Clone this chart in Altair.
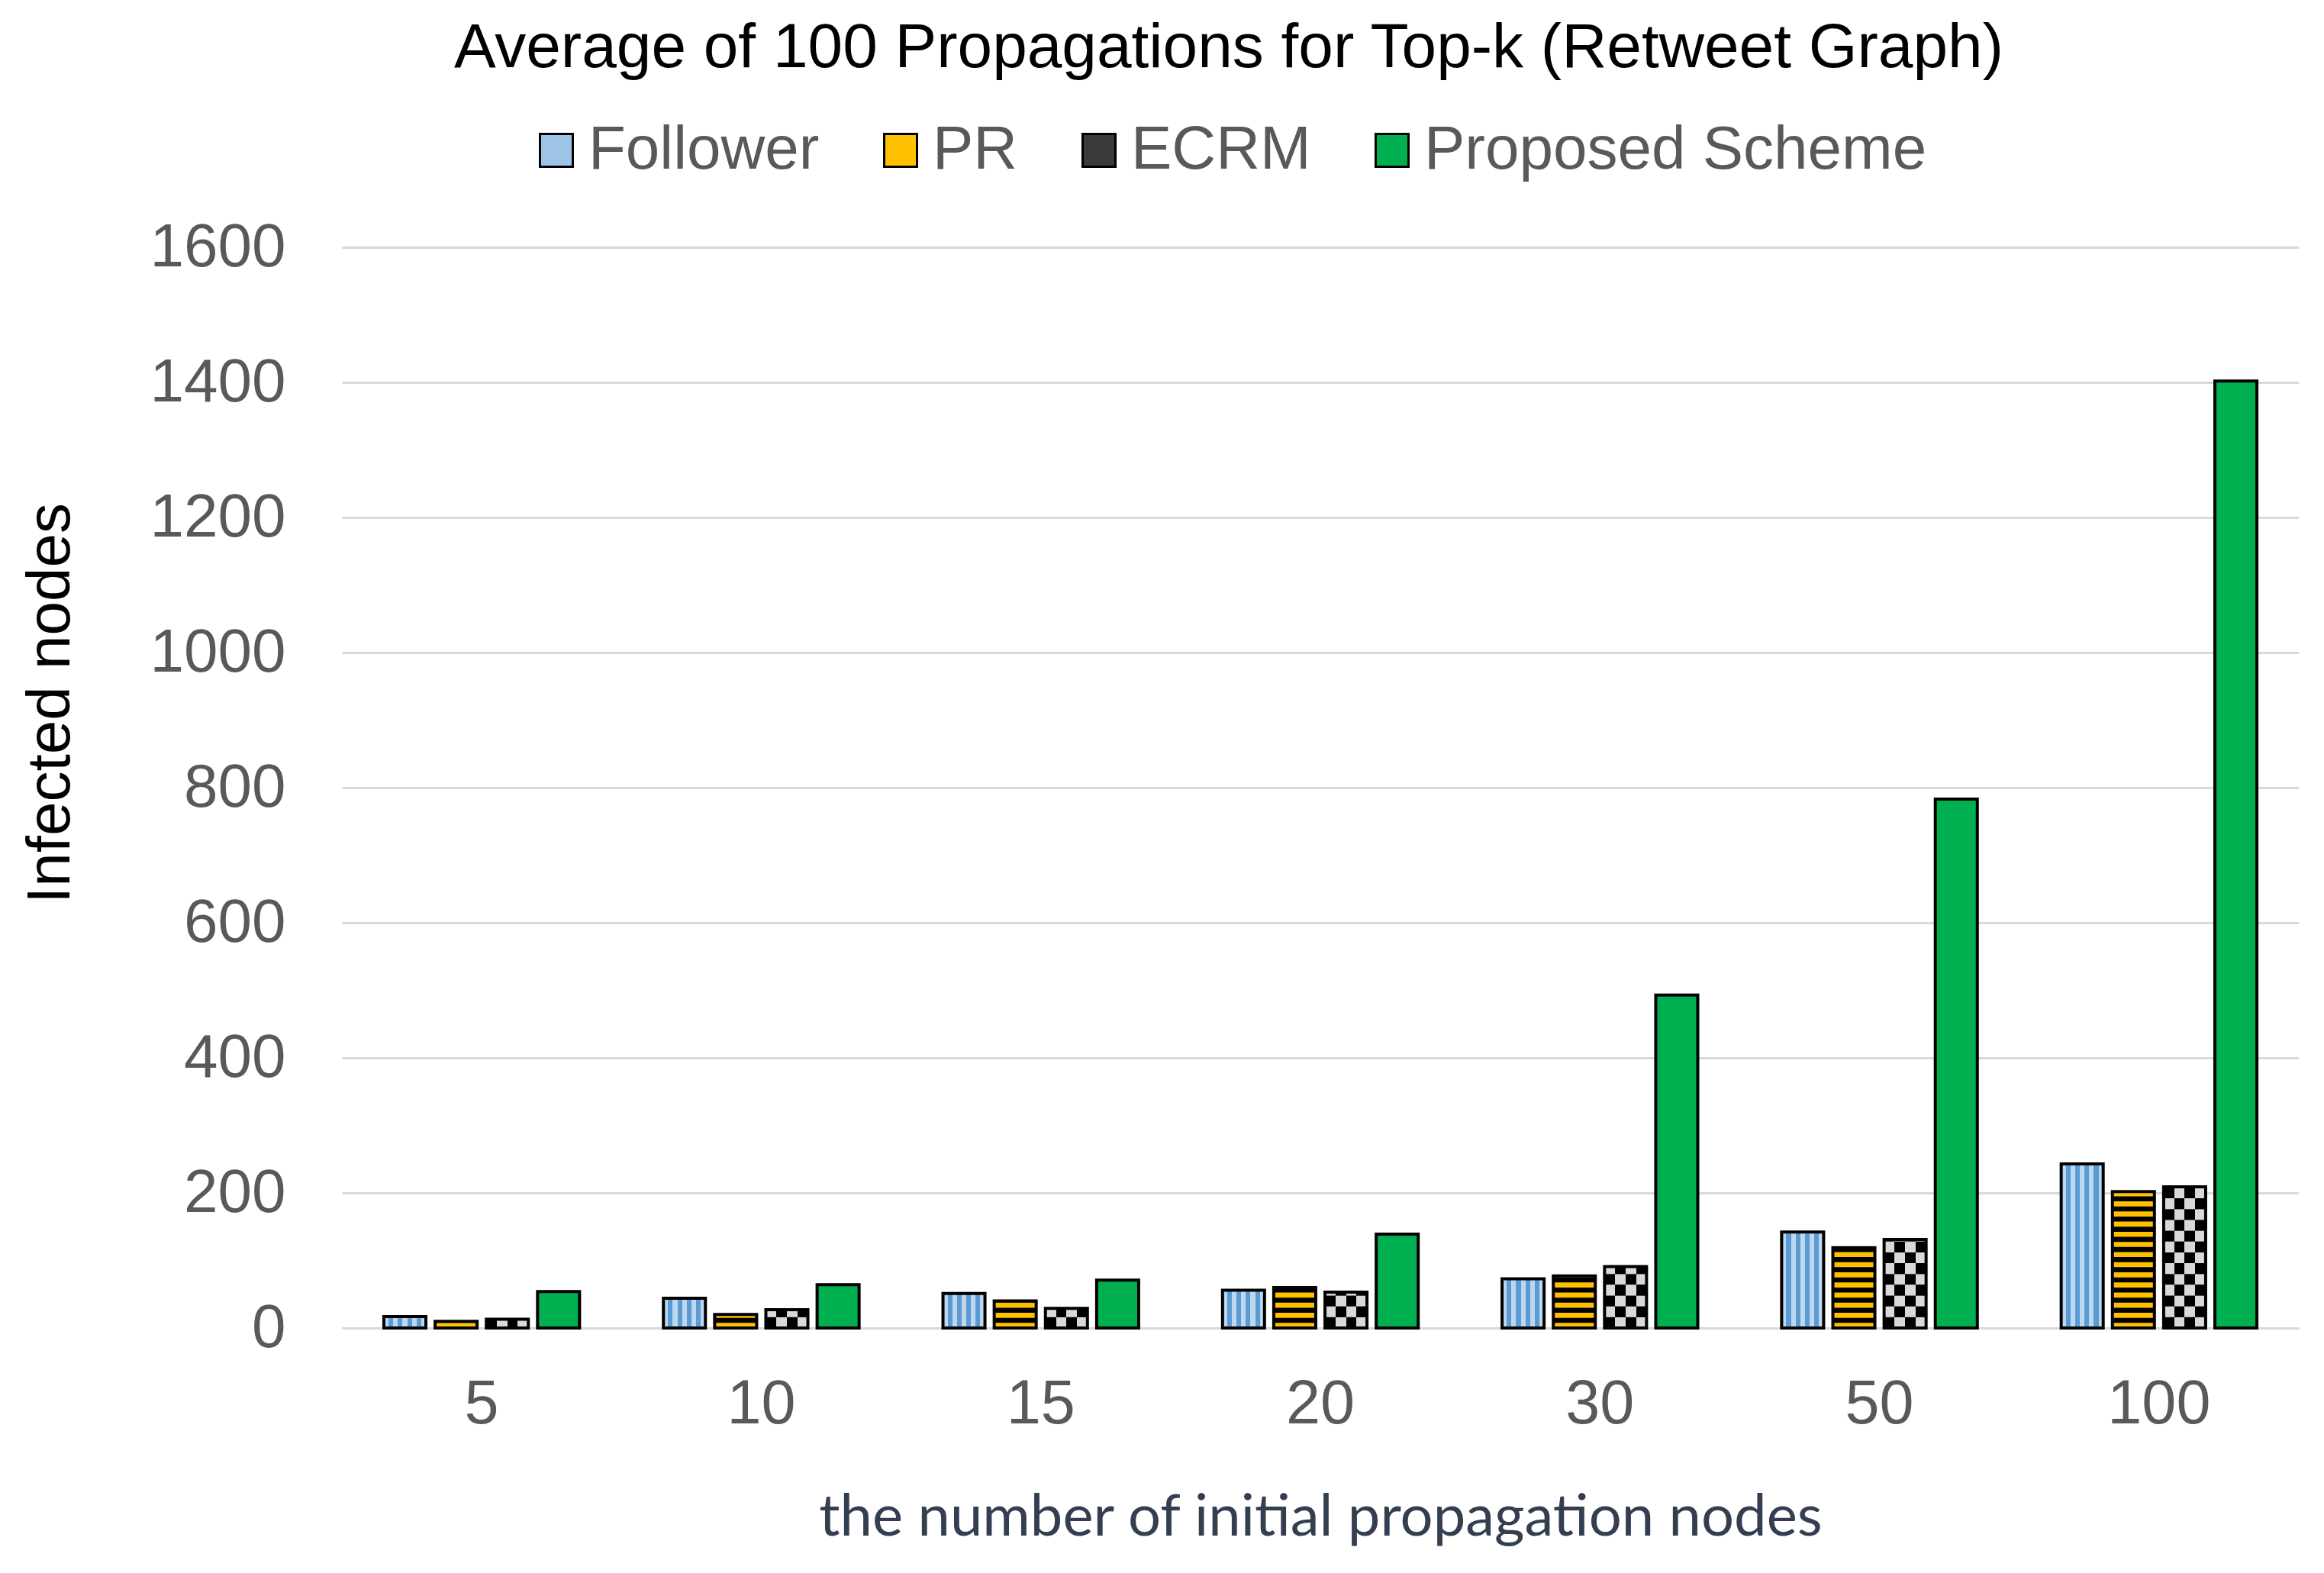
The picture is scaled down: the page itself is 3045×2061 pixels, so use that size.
import altair as alt
import pandas as pd

# ---------------- data ----------------
k_labels = ["5", "10", "15", "20", "30", "50", "100"]
series_names = ["Follower", "PR", "ECRM", "Proposed Scheme"]
follower = [17, 44, 51, 56, 73, 142, 243]
pr = [10, 20, 40, 60, 77, 119, 202]
ecrm = [13, 27, 29, 53, 91, 131, 209]
proposed = [54, 64, 71, 139, 493, 783, 1402]
y_ticks = [0, 200, 400, 600, 800, 1000, 1200, 1400, 1600]

rows = []
for name, vals in zip(series_names, [follower, pr, ecrm, proposed]):
    for k, v in zip(k_labels, vals):
        rows.append({"k": k, "series": name, "value": v})
df = pd.DataFrame(rows)

# ---------------- style ----------------
W, H = 2564, 1416
FONT = "Liberation Sans"
GREY = "#595959"
LIGHT_BLUE = "#BDD7EE"
MID_BLUE = "#5B9BD5"
GOLD = "#FFC000"
CHECK_GREY = "#D9D9D9"
GREEN = "#00B050"


def hard_stops(colors):
    n = len(colors)
    stops = []
    for i, c in enumerate(colors):
        stops.append({"offset": i / n, "color": c})
        stops.append({"offset": (i + 1) / n, "color": c})
    return stops


grad_follower = {"gradient": "linear", "x1": 0, "y1": 0, "x2": 1, "y2": 0,
                 "stops": hard_stops([LIGHT_BLUE, MID_BLUE] * 4 + [LIGHT_BLUE])}
grad_check_a = {"gradient": "linear", "x1": 0, "y1": 0, "x2": 1, "y2": 0,
                "stops": hard_stops(["black", CHECK_GREY, "black", CHECK_GREY])}
grad_check_b = {"gradient": "linear", "x1": 0, "y1": 0, "x2": 1, "y2": 0,
                "stops": hard_stops([CHECK_GREY, "black", CHECK_GREY, "black"])}

x_scale = alt.Scale(domain=k_labels, paddingInner=0.3, paddingOuter=0.15)
xo_scale = alt.Scale(domain=series_names, paddingInner=0.18, paddingOuter=0)
y_scale = alt.Scale(domain=[0, 1600], nice=False)

x_axis = alt.Axis(
    title="the number of initial propagation nodes",
    labelFont=FONT, labelFontSize=81, labelColor=GREY, labelPadding=60,
    labelAngle=0, ticks=False, tickSize=0,
    domainColor="#D9D9D9", domainWidth=3, grid=False,
    titleFont="Lato", titleFontSize=76, titleColor="#333F50",
    titleFontWeight="normal", titleY=211, titleBaseline="top",
)
y_axis = alt.Axis(
    title="Infected nodes", values=y_ticks, format="d",
    labelFont=FONT, labelFontSize=80, labelColor=GREY, labelPadding=74,
    labelLimit=600, ticks=False, tickSize=0, domain=False,
    grid=True, gridColor="#D9D9D9", gridWidth=3,
    titleFont=FONT, titleFontSize=80, titleColor="black",
    titleFontWeight="normal", titleX=-358, titleY=597,
    titleBaseline="alphabetic",
)


def X():
    return alt.X("k:N", scale=x_scale, axis=x_axis, title="the number of initial propagation nodes")


def XO():
    return alt.XOffset("series:N", scale=xo_scale)


def Y(field):
    return alt.Y(field, scale=y_scale, axis=y_axis, title="Infected nodes")


legend = alt.Legend(
    title=None, orient="none", legendX=241, legendY=-167,
    direction="horizontal", labelFont=FONT, labelFontSize=80,
    labelColor=GREY, labelLimit=1000, symbolType="square",
    symbolSize=1849, symbolStrokeColor="black", symbolStrokeWidth=3,
    labelOffset=2, columnPadding=66, padding=0,
)

base = alt.Chart(df).mark_bar(strokeWidth=0).encode(
    x=X(), xOffset=XO(), y=Y("value:Q"),
    color=alt.Color("series:N",
                    scale=alt.Scale(domain=series_names,
                                    range=["#9DC3E6", GOLD, "#3A3A3A", GREEN]),
                    legend=legend),
)

foll = alt.Chart(df).transform_filter(
    "datum.series == 'Follower'"
).mark_bar(fill=grad_follower, strokeWidth=0).encode(
    x=X(), xOffset=XO(), y=Y("value:Q"))

pr_stripes = alt.Chart(df).transform_filter(
    "datum.series == 'PR'"
).transform_calculate(
    s="sequence(7.5, datum.value, 15)"
).transform_flatten(["s"]).transform_calculate(
    s2="min(datum.s + 7.5, datum.value)"
).mark_bar(fill="black", strokeWidth=0).encode(
    x=X(), xOffset=XO(), y=Y("s:Q"), y2="s2:Q")

ec = alt.Chart(df).transform_filter(
    "datum.series == 'ECRM'"
).transform_calculate(
    r="sequence(0, ceil(datum.value / 16))"
).transform_flatten(["r"]).transform_calculate(
    ry="datum.r * 16", ry2="min(datum.r * 16 + 16, datum.value)",
    parity="datum.r % 2",
)
ec0 = ec.transform_filter("datum.parity == 0").mark_bar(
    fill=grad_check_a, strokeWidth=0).encode(
    x=X(), xOffset=XO(), y=Y("ry:Q"), y2="ry2:Q")
ec1 = ec.transform_filter("datum.parity == 1").mark_bar(
    fill=grad_check_b, strokeWidth=0).encode(
    x=X(), xOffset=XO(), y=Y("ry:Q"), y2="ry2:Q")

outline = alt.Chart(df).mark_bar(
    fillOpacity=0, stroke="black", strokeWidth=4).encode(
    x=X(), xOffset=XO(), y=Y("value:Q"))

chart = alt.layer(base, foll, pr_stripes, ec0, ec1, outline).properties(
    width=W, height=H,
    title=alt.Title("Average of 100 Propagations for Top-k (Retweet Graph)",
                    font=FONT, fontSize=82, color="black",
                    fontWeight="normal", anchor="middle", frame="group",
                    dx=-120, offset=52),
    padding={"left": 440, "top": 316, "right": 25, "bottom": 290},
    autosize="none",
    background="white",
).configure_view(stroke=None)

chart.save("out.html", embed_options={"renderer": "svg", "actions": False})
